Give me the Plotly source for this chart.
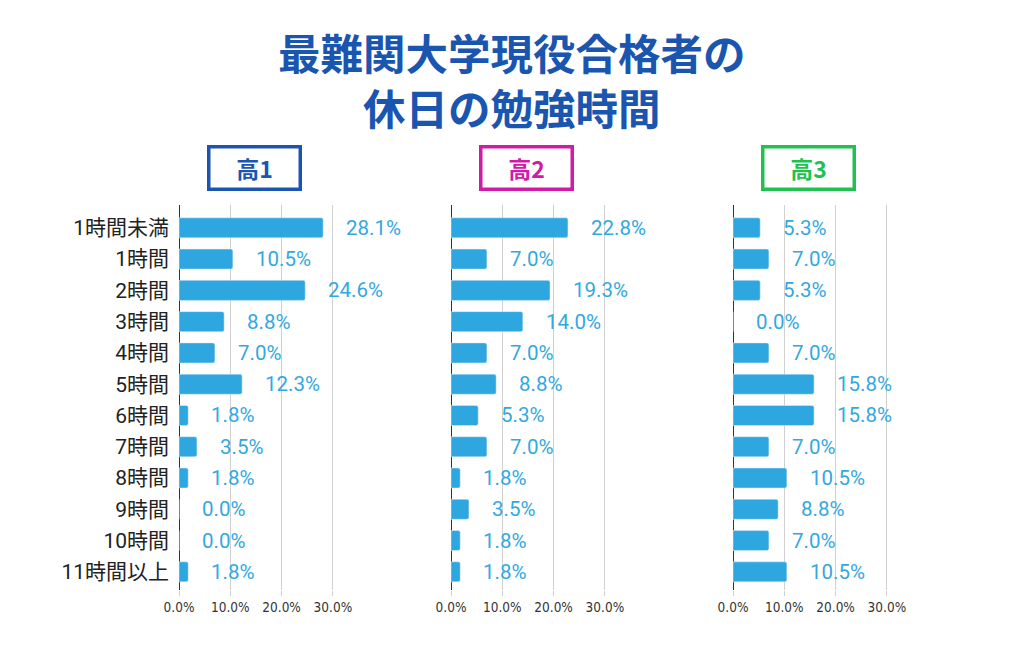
import plotly.graph_objects as go

categories = ["1時間未満", "1時間", "2時間", "3時間", "4時間", "5時間", "6時間",
              "7時間", "8時間", "9時間", "10時間", "11時間以上"]
grade1 = [28.1, 10.5, 24.6, 8.8, 7.0, 12.3, 1.8, 3.5, 1.8, 0.0, 0.0, 1.8]
grade2 = [22.8, 7.0, 19.3, 14.0, 7.0, 8.8, 5.3, 7.0, 1.8, 3.5, 1.8, 1.8]
grade3 = [5.3, 7.0, 5.3, 0.0, 7.0, 15.8, 15.8, 7.0, 10.5, 8.8, 7.0, 10.5]
panel_titles = ["高1", "高2", "高3"]
panel_colors = ["#1a55b0", "#d01aa8", "#1fc24f"]
tick_vals = [0, 10, 20, 30]
tick_text = ["0.0%", "10.0%", "20.0%", "30.0%"]
title_lines = ["最難関大学現役合格者の", "休日の勉強時間"]

# page body has an 8px margin; build the figure to fit inside it
OFF = 8
W, H = 1024 - 2 * OFF, 666 - 2 * OFF
BAR = "#2ea6e0"
CJK = "Noto Sans CJK JP"

px_per_unit = 5.13
xmax = 32
x0s = [179, 451, 733]
plot_top, plot_bot = 205, 590


def fx(p):
    return (p - OFF) / W


def fy(p):
    return 1 - (p - OFF) / H


fig = go.Figure()
series = [grade1, grade2, grade3]
annotations = []
for i, vals in enumerate(series):
    xa = "x" if i == 0 else f"x{i+1}"
    ya = "y" if i == 0 else f"y{i+1}"
    fig.add_trace(go.Bar(
        x=vals, y=categories, orientation="h",
        marker=dict(color=BAR, cornerradius=2),
        width=0.64, xaxis=xa, yaxis=ya, hoverinfo="skip",
    ))
    for c, v in zip(categories, vals):
        annotations.append(dict(
            x=v, y=c, xref=xa, yref=ya, text=f"{v:.1f}%",
            showarrow=False, xanchor="left", yanchor="middle", xshift=21,
            font=dict(family="Roboto", size=20.5, color="#33a8e0"),
        ))

layout = dict(
    width=W, height=H, margin=dict(l=0, r=0, t=0, b=0, pad=0),
    paper_bgcolor="white", plot_bgcolor="white", showlegend=False,
)
for i in range(3):
    sfx = "" if i == 0 else str(i + 1)
    x0 = x0s[i]
    x1 = x0 + xmax * px_per_unit
    layout["xaxis" + sfx] = dict(
        domain=[fx(x0), fx(x1)], range=[0, xmax], anchor="y" + sfx,
        tickvals=tick_vals, ticktext=tick_text, automargin=False,
        showgrid=True, gridcolor="#d0d0d0", gridwidth=1,
        zeroline=True, zerolinecolor="#333333", zerolinewidth=1,
        ticks="outside", ticklen=5, tickcolor="#d0d0d0",
        tickfont=dict(family="Liberation Sans Narrow, Arial Narrow, DejaVu Sans Condensed, sans-serif",
                      size=13.5, color="#333333"),
        fixedrange=True,
    )
    layout["yaxis" + sfx] = dict(
        domain=[fy(plot_bot), fy(plot_top)], anchor="x" + sfx, automargin=False,
        type="category", categoryorder="array", categoryarray=categories,
        range=[11.58, -0.73], showgrid=False, zeroline=False,
        showticklabels=(i == 0), ticks="", ticklabelstandoff=9,
        tickfont=dict(family="Roboto, " + CJK, size=21, color="#222222"),
        fixedrange=True,
    )
    cx = x0 + 75.5
    annotations.append(dict(
        x=fx(cx), y=fy(167.5), xref="paper", yref="paper",
        text=f"<b>{panel_titles[i]}</b>", showarrow=False,
        xanchor="center", yanchor="middle",
        width=88, height=39, borderpad=0, borderwidth=3.5,
        bordercolor=panel_colors[i],
        font=dict(family=CJK, size=23, color=panel_colors[i]),
    ))

annotations.append(dict(
    x=fx(512), y=fy(78.5), xref="paper", yref="paper",
    text="<br>".join(title_lines), showarrow=False,
    xanchor="center", yanchor="middle", align="center",
    font=dict(family=CJK, size=42.5, color="#1a55b0", weight=600),
))

layout["annotations"] = annotations
fig.update_layout(**layout)
fig.write_html("out.html", config={"displayModeBar": False})
